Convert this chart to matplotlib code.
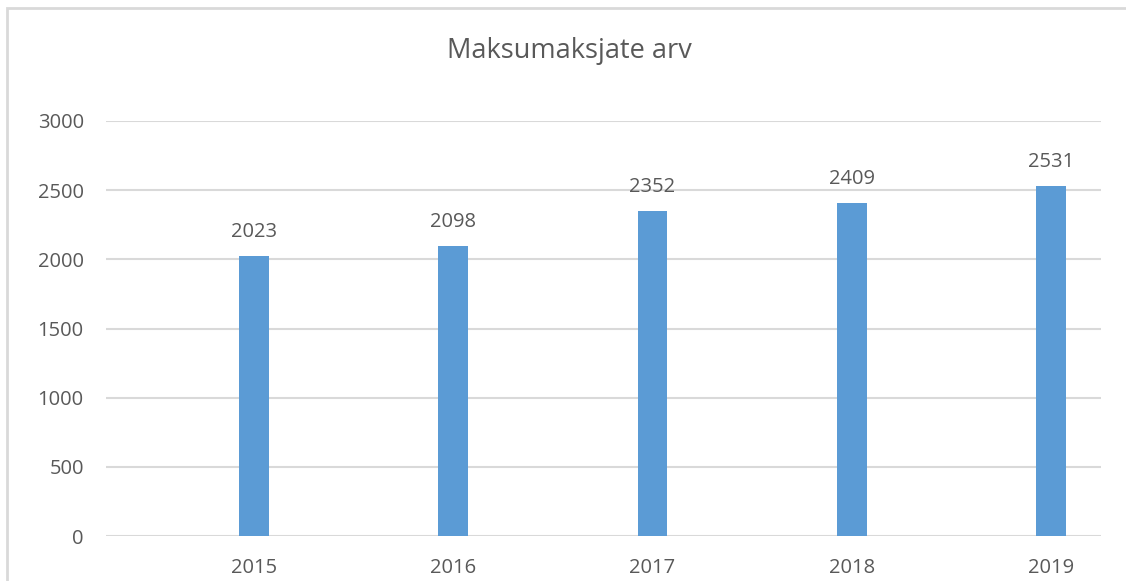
import matplotlib
matplotlib.use('Agg')
import matplotlib.pyplot as plt
from matplotlib.patches import Rectangle

# andmed
aastad = ['2015', '2016', '2017', '2018', '2019']
vaartused = [2023, 2098, 2352, 2409, 2531]
y_ticks = [0, 500, 1000, 1500, 2000, 2500, 3000]

plt.rcParams['font.family'] = ['Open Sans', 'DejaVu Sans']
hall = '#595959'

fig = plt.figure(figsize=(11.26, 5.81), dpi=100)
ax = fig.add_axes([106 / 1126, 1 - 536 / 581, 995 / 1126, 415 / 581])

x = list(range(len(aastad)))
bars = ax.bar(x, vaartused, width=0.15, color='#5B9BD5', zorder=3)
for b, v in zip(bars, vaartused):
    ax.annotate(str(v), (b.get_x() + b.get_width() / 2, v), xytext=(0, 10),
                textcoords='offset points', ha='center', va='bottom',
                fontsize=14.5, color=hall)

# tulbad pole keskel - nihutatud paremale nagu Excelis
ax.set_xlim(-0.743, len(aastad) - 1 + 0.251)
ax.set_ylim(0, 3000)
ax.set_yticks(y_ticks)
ax.set_xticks(x)
ax.set_xticklabels(aastad)
ax.tick_params(axis='both', length=0, labelsize=14.5, labelcolor=hall)
ax.tick_params(axis='y', pad=16)
ax.tick_params(axis='x', pad=16)
ax.grid(axis='y', color='#D9D9D9', linewidth=1.5, zorder=0)
for s in ax.spines.values():
    s.set_visible(False)

fig.text(569 / 1126, 1 - 51 / 581, 'Maksumaksjate arv', ha='center', va='center',
         fontsize=19.5, color=hall)

# raam ümber diagrammi
fig.patches.append(Rectangle((7 / 1126, -0.1), 1.2, 1 - 8 / 581 + 0.1,
                             transform=fig.transFigure, fill=False,
                             edgecolor='#D9D9D9', linewidth=2))

plt.savefig('out.png', dpi=100)
